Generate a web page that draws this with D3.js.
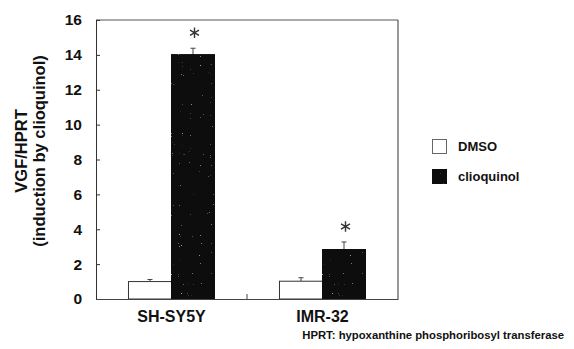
<!DOCTYPE html>
<html>
<head>
<meta charset="utf-8">
<script src="https://cdn.jsdelivr.net/npm/d3@7"></script>
<style>
  html, body { margin: 0; padding: 0; background: #fff; }
  svg { display: block; font-family: "Liberation Sans", Arial, sans-serif; }
</style>
</head>
<body>
<svg id="chart" width="574" height="349"></svg>
<script>
// Cell lines and treatments
const cellLines = ["SH-SY5Y", "IMR-32"];
const treatments = ["DMSO", "clioquinol"];
// Mean VGF/HPRT induction and SEM per cell line, one array per treatment
const dmsoValues = [1.0, 1.02];
const dmsoErrors = [0.12, 0.2];
const clioValues = [14.0, 2.85];
const clioErrors = [0.38, 0.42];
// Significance markers above clioquinol bars
const significant = [true, true];
const yTicks = [0, 2, 4, 6, 8, 10, 12, 14, 16];

const svg = d3.select("#chart");
const margin = { left: 96, top: 20, right: 176, bottom: 50 };
const W = 574, H = 349;
const iw = W - margin.left - margin.right;
const ih = H - margin.top - margin.bottom;
const g = svg.append("g").attr("transform", `translate(${margin.left},${margin.top})`);

const x0 = d3.scaleBand().domain(cellLines).range([0, iw]).paddingInner(0).paddingOuter(0);
const x1 = d3.scaleBand().domain(treatments).range([0, x0.bandwidth()]).paddingInner(0).paddingOuter(0.755);
const y = d3.scaleLinear().domain([0, 16]).range([ih, 0]);

const fills = { DMSO: "#ffffff", clioquinol: "#0b0b0b" };
const strokes = { DMSO: "#333", clioquinol: "#0b0b0b" };

// Sparse grey speckle texture for the dark bars
const defs = svg.append("defs");
const f = defs.append("filter").attr("id", "speckle").attr("x", 0).attr("y", 0).attr("width", 1).attr("height", 1);
f.append("feTurbulence").attr("type", "fractalNoise").attr("baseFrequency", 0.9).attr("numOctaves", 1).attr("seed", 3).attr("result", "noise");
f.append("feColorMatrix").attr("in", "noise").attr("type", "matrix")
  .attr("values", "0 0 0 0 0.45  0 0 0 0 0.45  0 0 0 0 0.45  0 0 0 9 -6.6").attr("result", "dots");
f.append("feComposite").attr("in", "dots").attr("in2", "SourceGraphic").attr("operator", "atop").attr("result", "d2");
f.append("feMerge").call(m => { m.append("feMergeNode").attr("in", "SourceGraphic"); m.append("feMergeNode").attr("in", "d2"); });

const rows = cellLines.map((c, i) => ({
  cell: c,
  bars: [
    { t: "DMSO", v: dmsoValues[i], e: dmsoErrors[i], sig: false },
    { t: "clioquinol", v: clioValues[i], e: clioErrors[i], sig: significant[i] }
  ]
}));

const grp = g.selectAll("g.cell").data(rows).join("g")
  .attr("class", "cell")
  .attr("transform", d => `translate(${x0(d.cell)},0)`);

// Error bars (upper only)
grp.selectAll("g.err").data(d => d.bars).join("g").attr("class", "err").each(function (d) {
  const cx = x1(d.t) + x1.bandwidth() / 2;
  const s = d3.select(this);
  s.append("line").attr("x1", cx).attr("x2", cx).attr("y1", y(d.v)).attr("y2", y(d.v + d.e))
    .attr("stroke", "#444").attr("stroke-width", 1);
  s.append("line").attr("x1", cx - 2.5).attr("x2", cx + 2.5).attr("y1", y(d.v + d.e)).attr("y2", y(d.v + d.e))
    .attr("stroke", "#444").attr("stroke-width", 1);
});

grp.selectAll("rect").data(d => d.bars).join("rect")
  .attr("x", d => x1(d.t))
  .attr("y", d => y(d.v))
  .attr("width", x1.bandwidth())
  .attr("height", d => y(0) - y(d.v))
  .attr("fill", d => fills[d.t])
  .attr("stroke", d => strokes[d.t])
  .attr("stroke-width", 1)
  .attr("filter", d => d.t === "clioquinol" ? "url(#speckle)" : null);

// Significance asterisks
const star = d3.symbol().type(d3.symbolAsterisk).size(75);
grp.selectAll("path.sig").data(d => d.bars.filter(b => b.sig)).join("path")
  .attr("class", "sig")
  .attr("transform", d => `translate(${x1(d.t) + x1.bandwidth() / 2 + 1.5},${y(d.v + d.e) - 15.5})`)
  .attr("d", star)
  .attr("fill", "none")
  .attr("stroke", "#333")
  .attr("stroke-width", 1.4);

// Frame: top and right
g.append("line").attr("x1", 0).attr("x2", iw).attr("y1", 0).attr("y2", 0).attr("stroke", "#555");
g.append("line").attr("x1", iw).attr("x2", iw).attr("y1", 0).attr("y2", ih).attr("stroke", "#333");

// Y axis with inward ticks
const yAxis = g.append("g").call(d3.axisLeft(y).tickValues(yTicks).tickSizeInner(-4).tickSizeOuter(0).tickPadding(14));
yAxis.select(".domain").attr("stroke", "#333");
yAxis.selectAll(".tick line").attr("stroke", "#333");
yAxis.selectAll("text").attr("font-size", 15.5).attr("font-weight", "bold").attr("fill", "#111");

// X axis: baseline with a tick between the cell lines
const xAxis = g.append("g").attr("transform", `translate(0,${ih})`)
  .call(d3.axisBottom(x0).tickSize(0).tickPadding(12));
xAxis.select(".domain").attr("stroke", "#444");
xAxis.selectAll("text").attr("font-size", 16).attr("font-weight", "bold").attr("fill", "#111");
g.append("line").attr("x1", x0.step()).attr("x2", x0.step()).attr("y1", ih).attr("y2", ih - 5).attr("stroke", "#444");

// Y-axis title, two lines
const title = svg.append("text")
  .attr("transform", "translate(27,151) rotate(-90)")
  .attr("text-anchor", "middle")
  .attr("font-size", 16.5).attr("font-weight", "bold").attr("fill", "#111");
title.append("tspan").attr("x", 0).attr("dy", 0).text("VGF/HPRT");
title.append("tspan").attr("x", 0).attr("dy", 17.5).text("(induction by clioquinol)");

// Legend
const legend = svg.append("g").attr("transform", "translate(432,139)");
treatments.forEach((t, i) => {
  const r = legend.append("g").attr("transform", `translate(0,${i * 30})`);
  r.append("rect").attr("x", 0.5).attr("y", 0.5).attr("width", 14).attr("height", 14)
    .attr("fill", fills[t]).attr("stroke", t === "DMSO" ? "#666" : "#0b0b0b")
    .attr("filter", t === "clioquinol" ? "url(#speckle)" : null);
  r.append("text").attr("x", 26).attr("y", 12).attr("font-size", 13).attr("font-weight", "bold")
    .attr("fill", "#111").text(t);
});

// Footnote
svg.append("text").attr("x", 564).attr("y", 339).attr("text-anchor", "end")
  .attr("font-size", 11.3).attr("font-weight", "bold").attr("fill", "#111")
  .text("HPRT: hypoxanthine phosphoribosyl transferase");
</script>
</body>
</html>
